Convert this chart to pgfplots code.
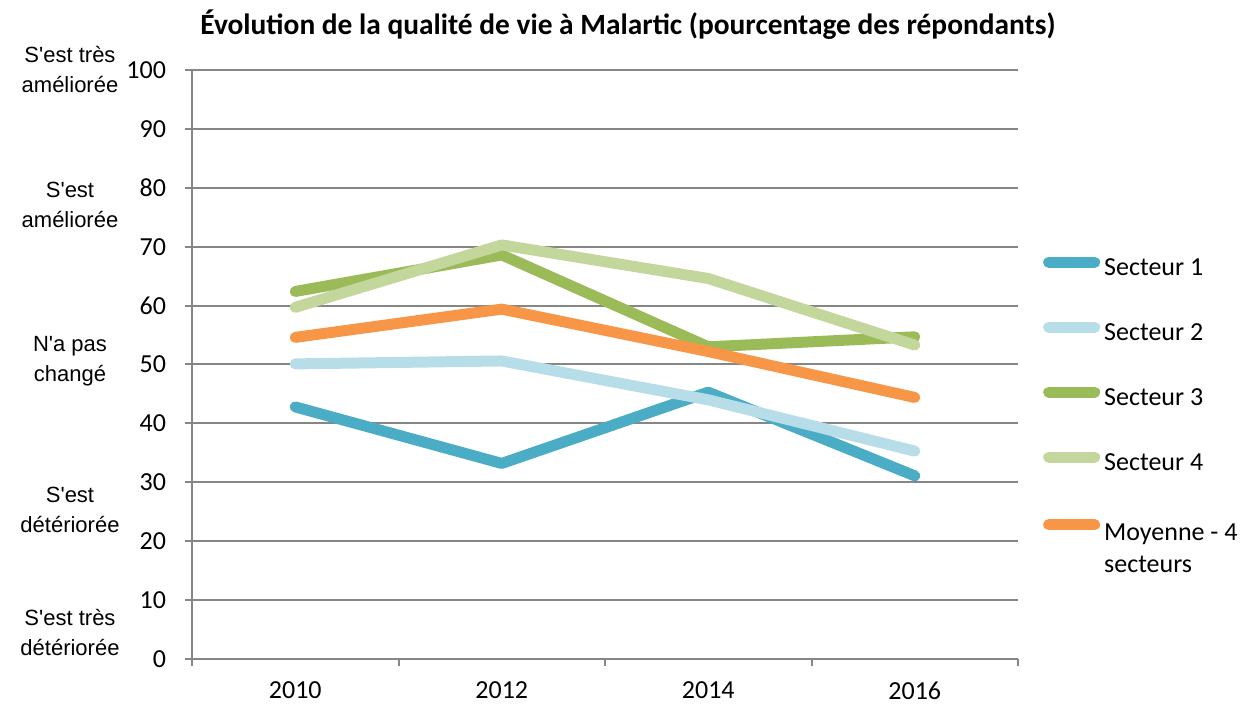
\documentclass[border=0pt]{standalone}
\usepackage{fontspec}
\setmainfont{Carlito}
\newfontfamily\arialfont{Liberation Sans}
\usepackage{pgfplots}
\pgfplotsset{compat=1.18}
\definecolor{sA}{HTML}{4BACC6}
\definecolor{sB}{HTML}{B7DDE8}
\definecolor{sC}{HTML}{9BBB59}
\definecolor{sD}{HTML}{C3D69B}
\definecolor{sM}{HTML}{F79646}
\definecolor{gridgray}{HTML}{868686}
\begin{document}
\begin{tikzpicture}
\useasboundingbox (-96pt,-23pt) rectangle (524.5pt,329.5pt);
\begin{axis}[
  at={(0,0)}, anchor=south west,
  scale only axis, width=413pt, height=294.5pt,
  xmin=-0.5, xmax=3.5, ymin=0, ymax=100,
  xtick={-0.5,0.5,1.5,2.5,3.5}, xticklabels={},
  extra x ticks={0,1,2,3}, extra x tick labels={2010,2012,2014,2016},
  extra x tick style={major tick length=0pt, grid=none, xticklabel style={yshift=-8pt}},
  ytick={0,10,...,100},
  ymajorgrids, grid style={color=gridgray, line width=1pt},
  axis x line*=bottom, axis y line*=left,
  axis line style={-, gridgray, line width=1pt},
  tick style={gridgray, line width=1pt},
  tick align=outside, major tick length=3.5pt,
  tick label style={font=\fontsize{13pt}{15pt}\selectfont, black},
  /pgf/number format/assume math mode=true,
  yticklabel style={xshift=-6pt},
  legend style={at={(1.03,0.6865)}, anchor=north west, draw=none, fill=none,
    font=\fontsize{13pt}{16pt}\selectfont, row sep=18.5pt,
    cells={anchor=base west}, inner sep=0pt},
  legend image code/.code={\draw[#1, line width=5.5pt, line cap=round] (0pt,0.33em) -- (23pt,0.33em);},
  legend cell align=left,
]
\addplot[sA, line width=5.5pt, line cap=round, line join=round] coordinates {(0,42.8)(1,33.2)(2,45.3)(3,31.1)};
\addplot[sB, line width=5.5pt, line cap=round, line join=round] coordinates {(0,50.1)(1,50.6)(2,44.0)(3,35.3)};
\addplot[sC, line width=5.5pt, line cap=round, line join=round] coordinates {(0,62.4)(1,68.6)(2,53.0)(3,54.7)};
\addplot[sD, line width=5.5pt, line cap=round, line join=round] coordinates {(0,59.7)(1,70.3)(2,64.6)(3,53.3)};
\addplot[sM, line width=5.5pt, line cap=round, line join=round] coordinates {(0,54.6)(1,59.4)(2,52.2)(3,44.4)};
\legend{Secteur 1, Secteur 2, Secteur 3, Secteur 4, {\begin{tabular}[t]{@{}l@{}}Moyenne - 4\\secteurs\end{tabular}}}
\end{axis}
\node[font=\bfseries\fontsize{14.7pt}{17pt}\selectfont] at (218pt,317pt) {Évolution de la qualité de vie à Malartic (pourcentage des répondants)};
\begin{scope}[every node/.style={align=center, font=\arialfont\fontsize{11pt}{15pt}\selectfont}]
\node at (-61pt,294.5pt) {S'est très\\améliorée};
\node at (-61pt,227pt) {S'est\\améliorée};
\node at (-61pt,149pt) {N'a pas\\changé};
\node at (-61pt,74.5pt) {S'est\\détériorée};
\node at (-61pt,13pt) {S'est très\\détériorée};
\end{scope}
\end{tikzpicture}
\end{document}
